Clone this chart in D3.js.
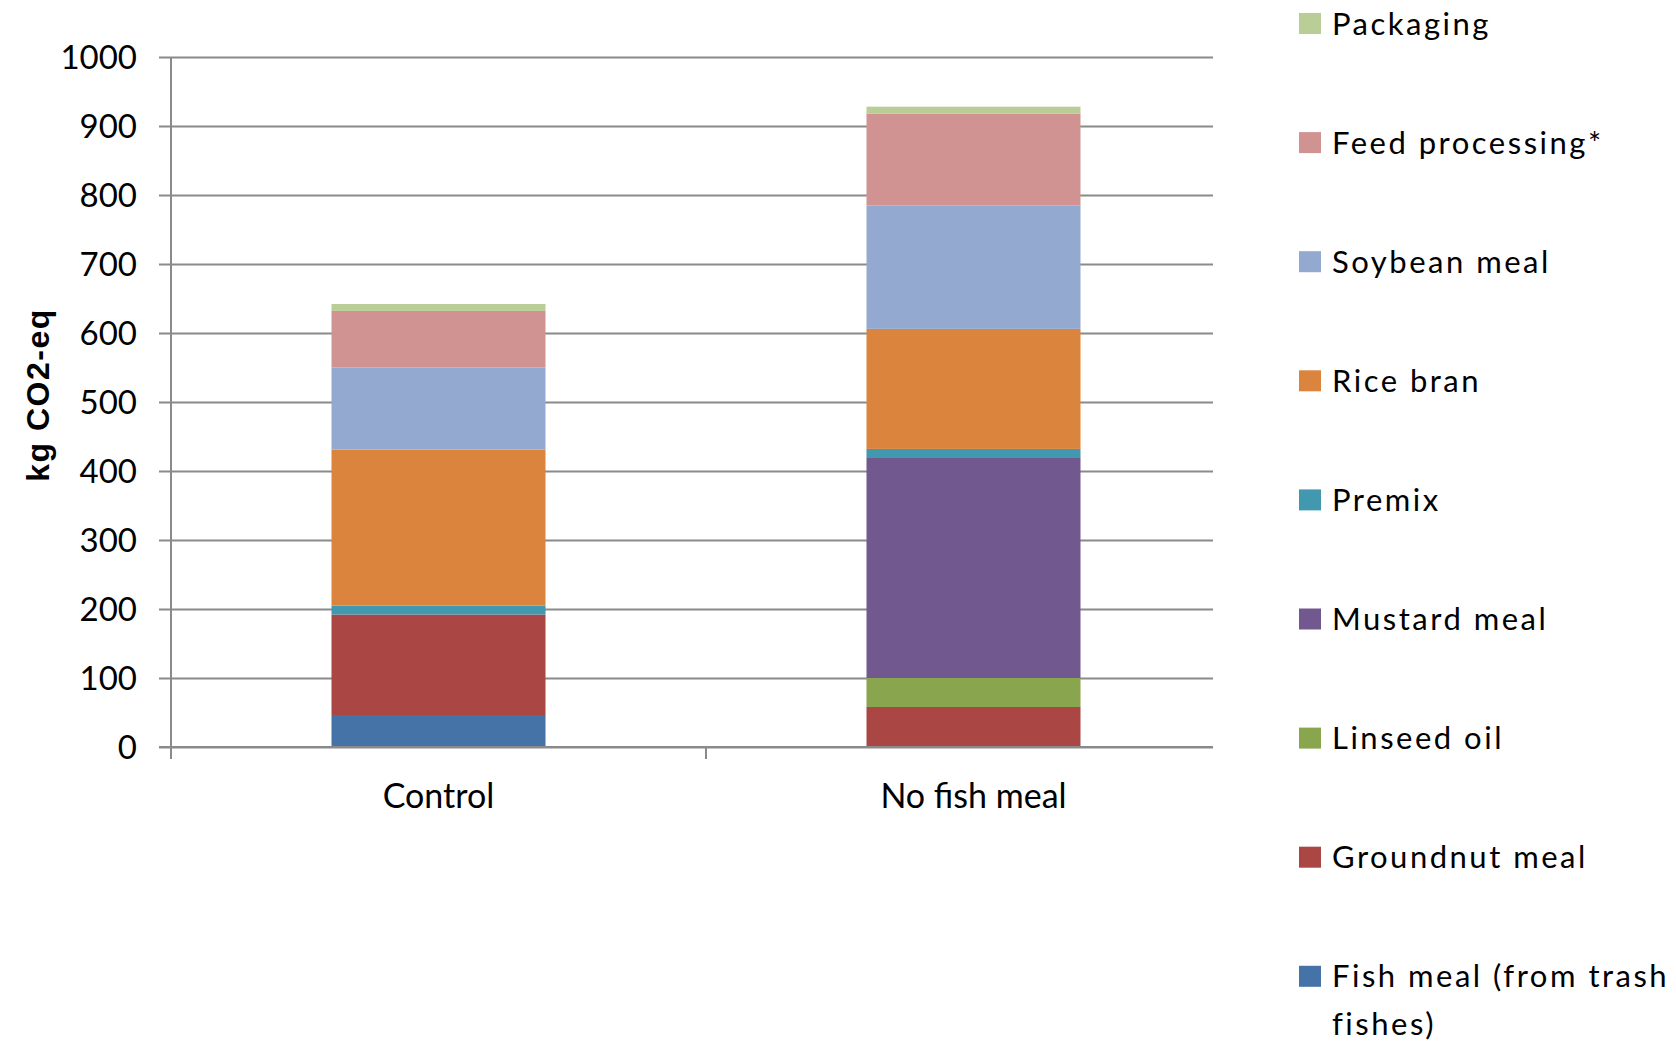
<!DOCTYPE html>
<html>
<head>
<meta charset="utf-8">
<script src="https://cdn.jsdelivr.net/npm/d3@7"></script>
<style>
  html, body { margin: 0; padding: 0; background: #fff; }
  svg { display: block; }
  text { font-family: Lato, "Open Sans", sans-serif; fill: #000; }
</style>
</head>
<body>
<svg id="chart" width="1676" height="1041"></svg>
<script>
// Feed scenarios on the x axis
const categories = ["Control", "No fish meal"];

// Emission sources, listed from the bottom of each stack to the top
const sources = [
  "Fish meal (from trash fishes)",
  "Groundnut meal",
  "Linseed oil",
  "Mustard meal",
  "Premix",
  "Rice bran",
  "Soybean meal",
  "Feed processing*",
  "Packaging"
];

// kg CO2-eq per source, same order as `sources`
const controlValues    = [45, 147, 0, 0, 13, 226, 119, 82, 10];
const noFishMealValues = [0, 58, 42, 320, 12, 174, 179, 133, 10];

const sourceColors = [
  "#4572A7", "#AA4643", "#89A54E", "#71588F", "#4198AF",
  "#DB843D", "#93A9CF", "#D19392", "#B9CD96"
];

const yTicks = [0, 100, 200, 300, 400, 500, 600, 700, 800, 900, 1000];
const yTitle = "kg CO2-eq";

// ---- layout ----
const plotLeft = 171, plotRight = 1213, plotTop = 57, plotBottom = 747;

const svg = d3.select("#chart");

const x = d3.scaleBand()
  .domain(categories)
  .range([plotLeft, plotLeft + 2 * 535])
  .paddingInner(0.6)
  .paddingOuter(0.3);

const y = d3.scaleLinear().domain([0, 1000]).range([plotBottom, plotTop]);

// rows: one per category, keyed by source name
const rows = categories.map((c, i) => {
  const vals = i === 0 ? controlValues : noFishMealValues;
  const r = { category: c };
  sources.forEach((s, j) => { r[s] = vals[j]; });
  return r;
});

const stacked = d3.stack().keys(sources)(rows);
const color = d3.scaleOrdinal().domain(sources).range(sourceColors);

const gridColor = "#8a8a8a";

// horizontal gridlines with left tick stubs
const yAxis = d3.axisLeft(y)
  .tickValues(yTicks)
  .tickSize(-(plotRight - plotLeft))
  .tickPadding(0)
  .tickFormat(d3.format("d"));

const gy = svg.append("g")
  .attr("transform", `translate(${plotLeft},0)`)
  .call(yAxis);
gy.select(".domain").remove();
gy.selectAll(".tick line")
  .attr("x1", -12)
  .attr("stroke", gridColor)
  .attr("stroke-width", 2);
gy.selectAll(".tick text")
  .attr("x", -34)
  .attr("dy", "0.36em")
  .style("font-family", "Lato, sans-serif")
  .style("font-size", "33px")
  .attr("fill", "#000");

// stacked bars
svg.append("g")
  .selectAll("g")
  .data(stacked)
  .join("g")
  .attr("fill", d => color(d.key))
  .selectAll("rect")
  .data(d => d)
  .join("rect")
  .attr("x", d => x(d.data.category))
  .attr("width", x.bandwidth())
  .attr("y", d => y(d[1]))
  .attr("height", d => y(d[0]) - y(d[1]));

// vertical axis line
svg.append("line")
  .attr("x1", plotLeft).attr("x2", plotLeft)
  .attr("y1", plotTop).attr("y2", plotBottom + 12)
  .attr("stroke", gridColor).attr("stroke-width", 2);

// baseline and category boundary ticks
svg.append("line")
  .attr("x1", plotLeft - 12).attr("x2", plotRight)
  .attr("y1", plotBottom).attr("y2", plotBottom)
  .attr("stroke", gridColor).attr("stroke-width", 2);

const boundaries = [x.step() * 1 + plotLeft];
svg.append("g")
  .selectAll("line")
  .data(boundaries)
  .join("line")
  .attr("x1", d => d).attr("x2", d => d)
  .attr("y1", plotBottom).attr("y2", plotBottom + 12)
  .attr("stroke", gridColor).attr("stroke-width", 2);

// category labels
svg.append("g")
  .selectAll("text")
  .data(categories)
  .join("text")
  .attr("x", d => x(d) + x.bandwidth() / 2)
  .attr("y", 808)
  .attr("text-anchor", "middle")
  .style("font-size", "34px")
  .text(d => d);

// y axis title
svg.append("text")
  .attr("transform", `translate(49,395) rotate(-90)`)
  .attr("text-anchor", "middle")
  .style("font-family", "'Liberation Sans', Arial, sans-serif")
  .style("font-weight", "bold")
  .style("font-size", "32px")
  .style("letter-spacing", "1.5px")
  .text(yTitle);

// legend, top entry is the top of the stack
const legendItems = sources.slice().reverse();
const legendTop = 23.5, legendStep = 119.1;
const legend = svg.append("g")
  .selectAll("g")
  .data(legendItems)
  .join("g")
  .attr("transform", (d, i) => `translate(1299,${legendTop + i * legendStep})`);

legend.append("rect")
  .attr("x", 0).attr("y", -10.5)
  .attr("width", 22).attr("height", 21)
  .attr("fill", d => color(d));

legend.append("text")
  .attr("x", 33)
  .attr("dy", "0.36em")
  .style("font-size", "31px")
  .style("letter-spacing", "2.5px")
  .each(function(d) {
    const t = d3.select(this);
    if (d.startsWith("Fish meal")) {
      t.append("tspan").attr("x", 33).text("Fish meal  (from trash");
      t.append("tspan").attr("x", 33).attr("dy", "1.52em").text("fishes)");
    } else {
      t.text(d);
    }
  });
</script>
</body>
</html>
